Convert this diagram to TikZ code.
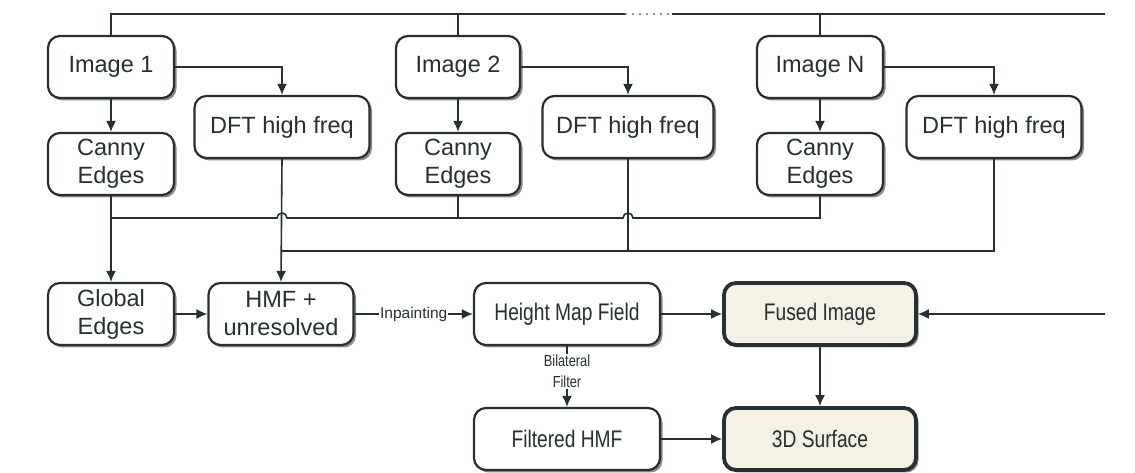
\documentclass[tikz,border=0pt]{standalone}
\usepackage{fontspec}
\setmainfont{Liberation Sans}
\newfontfamily\narrowsf[FakeStretch=0.8]{Liberation Sans}
\usepackage{xcolor}
\usepackage{tikz}
\usetikzlibrary{calc, arrows.meta, shadows}
\definecolor{ln}{HTML}{263030}
\definecolor{cream}{HTML}{F3F2E4}
\definecolor{dots}{HTML}{7D9AB0}
\tikzset{
  box/.style={draw=ln, line width=2.2pt, rounded corners=12pt, fill=white,
    align=center, inner sep=0pt, minimum height=62pt, text=ln,
    drop shadow={shadow xshift=2.5pt, shadow yshift=-2.5pt, opacity=0.6, fill=black!75},
    font=\fontsize{23.5}{28}\selectfont},
  result/.style={box, line width=3.8pt, fill=cream,
    font=\narrowsf\fontsize{24}{28}\selectfont},
  wide/.style={font=\narrowsf\fontsize{24}{28}\selectfont},
  arr/.style={draw=ln, line width=1.6pt, -{Latex[length=11pt,width=10pt]}},
  wire/.style={draw=ln, line width=1.6pt},
  tag/.style={fill=white, inner sep=1pt, text=ln}
}
\begin{document}
\begin{tikzpicture}[x=1pt, y=1pt]
\useasboundingbox (0,0) rectangle (1135,473);

% input images and their filters
\node[box, minimum width=126pt] (img1) at (111,406) {Image 1};
\node[box, minimum width=126pt] (can1) at (111,309) {Canny\\Edges};
\node[box, minimum width=175pt] (dft1) at (282,346) {DFT high freq};
\node[box, minimum width=124pt] (img2) at (458,406) {Image 2};
\node[box, minimum width=124pt] (can2) at (458,309) {Canny\\Edges};
\node[box, minimum width=171pt] (dft2) at (628,346) {DFT high freq};
\node[box, minimum width=126pt] (imgN) at (820,406) {Image N};
\node[box, minimum width=126pt] (canN) at (820,309) {Canny\\Edges};
\node[box, minimum width=175pt] (dftN) at (994,346) {DFT high freq};

% lower rows
\node[box, minimum width=126pt] (glob) at (111,159) {Global\\Edges};
\node[box, minimum width=145pt] (hmfu) at (281,159) {HMF +\\unresolved};
\node[box, wide, minimum width=186pt] (hmf) at (567,159) {Height Map Field};
\node[result, minimum width=192pt] (fused) at (820,159) {Fused Image};
\node[box, wide, minimum width=186pt] (fhmf) at (567,34) {Filtered HMF};
\node[result, minimum width=192pt] (surf) at (820,34) {3D Surface};

% bus lines
\coordinate (topL) at (625,459);
\coordinate (topM) at (672,459);
\coordinate (topR) at (1105,459);
\coordinate (inR) at (1105,159);
\coordinate (bus1) at (111,255);
\coordinate (bus2) at (281,222);

\draw[wire] (img1.north) |- (topL);
\draw[wire] (img2.north) -- (img2.north |- topL);
\draw[wire] (imgN.north) -- (imgN.north |- topL);
\draw[draw=dots, line width=2.4pt, dash pattern=on 2pt off 5pt] (topL) -- (topM);
\draw[wire] (topM) -- (topR);
\draw[arr] (inR) -- (fused.east);

\draw[arr] (img1.east) -| (dft1.north);
\draw[arr] (img2.east) -| (dft2.north);
\draw[arr] (imgN.east) -| (dftN.north);
\draw[arr] (img1) -- (can1);
\draw[arr] (img2) -- (can2);
\draw[arr] (imgN) -- (canN);

% edges bus, hopping over the DFT lines
\draw[wire] (canN.south) |- ($(dft2.south |- bus1)+(5,0)$)
  arc[start angle=0, end angle=180, radius=5]
  -- ($(dft1.south |- bus1)+(5,0)$)
  arc[start angle=0, end angle=180, radius=5] -- (bus1);
\draw[wire] (can2.south) -- (can2.south |- bus1);
\draw[arr] (can1) -- (glob);

% frequency bus
\draw[wire] (dftN.south) |- (bus2);
\draw[wire] (dft2.south) -- (dft2.south |- bus2);
\draw[arr] (dft1.south) -- (hmfu.north);

\draw[arr] (glob) -- (hmfu);
\draw[arr] (hmfu) -- node[tag, font=\fontsize{15.5}{18}\selectfont]{Inpainting} (hmf);
\draw[arr] (hmf) -- (fused);
\draw[arr] (hmf) -- node[tag, align=center, pos=0.42,
  font=\narrowsf\fontsize{16}{21}\selectfont]{Bilateral\\Filter} (fhmf);
\draw[arr] (fused) -- (surf);
\draw[arr] (fhmf) -- (surf);

\end{tikzpicture}
\end{document}
